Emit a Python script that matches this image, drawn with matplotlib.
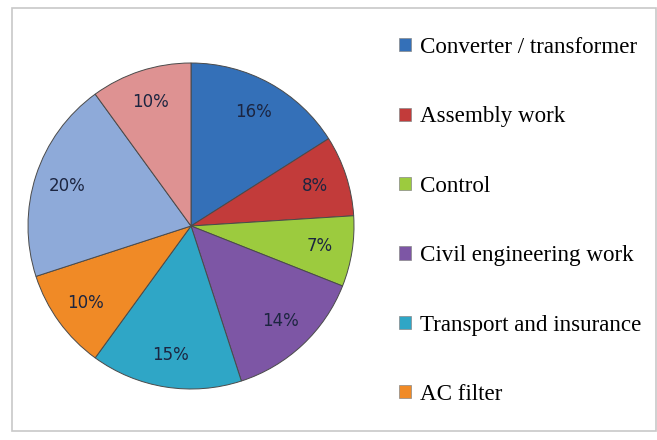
import matplotlib

matplotlib.use("Agg")
import matplotlib.pyplot as plt
from matplotlib.patches import Rectangle

# cost breakdown of the station, percent of total
CATEGORIES = [
    "Converter / transformer",
    "Assembly work",
    "Control",
    "Civil engineering work",
    "Transport and insurance",
    "AC filter",
    "Valves",
    "Engineering",
]
SHARES = [16, 8, 7, 14, 15, 10, 20, 10]
COLORS = ["#3470B8", "#C23B3A", "#9CCB3E", "#7D56A5",
          "#2FA6C6", "#F08A26", "#8EAAD9", "#DE9292"]
N_LEGEND = 6  # only the first six entries fit in the legend column

fig = plt.figure(figsize=(6.57, 4.40), dpi=100)
fig.patch.set_facecolor("white")

# light frame around the chart area
fig.add_artist(Rectangle((12 / 657, 9 / 440), 644 / 657, 423 / 440,
                         transform=fig.transFigure, fill=False,
                         edgecolor="#c8c8c8", lw=1.2))

# pie centred near (191, 226) px, radius ~163 px
ax = fig.add_axes([(191 - 163) / 657, (440 - 226 - 163) / 440,
                   326 / 657, 326 / 440])
wedges, _, autotexts = ax.pie(
    SHARES, colors=COLORS, startangle=90, counterclock=False,
    autopct="%d%%", pctdistance=0.80,
    wedgeprops=dict(edgecolor="#4a4a4a", linewidth=0.7),
    textprops=dict(fontsize=12, color="#1c2540", family="DejaVu Sans"),
)
ax.set_xlim(-1, 1)
ax.set_ylim(-1, 1)
ax.set_aspect("equal")

leg = fig.legend(
    wedges[:N_LEGEND], CATEGORIES[:N_LEGEND],
    loc="upper left", bbox_to_anchor=(399 / 657, 1 - 37 / 440),
    frameon=False, handlelength=0.5, handleheight=0.5, handletextpad=0.4,
    labelspacing=2.1, borderpad=0.0, borderaxespad=0.0,
    prop=dict(family="Liberation Serif", size=16.6),
)
for h in leg.legend_handles:
    h.set_edgecolor("#888888")
    h.set_linewidth(0.5)

fig.savefig("out.png", dpi=100, facecolor="white")
